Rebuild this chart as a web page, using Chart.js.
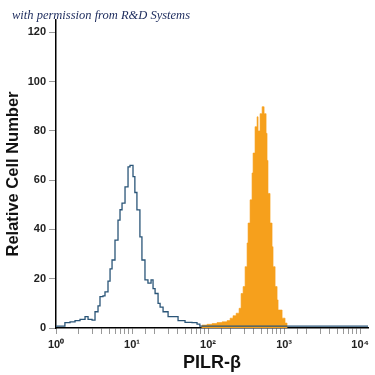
<!DOCTYPE html>
<html>
<head>
<meta charset="utf-8">
<script src="https://cdn.jsdelivr.net/npm/chart.js@4"></script>
<style>
  body { margin: 0; background: #fff; }
  #wrap { width: 375px; height: 375px; }
</style>
</head>
<body>
<div id="wrap"><canvas id="histChart"></canvas></div>
<script>
// isotype control histogram (open blue outline)
const isotypeX = [1, 1.31, 1.53, 1.78, 2.07, 2.41, 2.64, 2.98, 3.26, 3.57, 3.79, 4.15, 4.41, 4.83, 5.14, 5.46, 5.97, 6.54, 6.95, 7.39, 8.09, 8.86, 9.41, 10, 10.3, 10.9, 11.6, 12.7, 13.5, 14.8, 16.2, 17.8, 18.9, 20.1, 22, 23.4, 25.6, 29.8, 34.6, 40.3, 49.8, 61.5, 71.6, 78, 12700];
const isotypeCounts = [0.8, 2.2, 2.5, 3, 3.5, 4.6, 3.5, 3.2, 6.6, 9, 12.7, 13, 14.7, 19, 24, 27.6, 35.7, 43.8, 48, 50.7, 57.3, 65.4, 66, 66, 61.4, 55, 47.9, 37, 27.6, 19.5, 18.2, 19.5, 16, 14, 10, 8.5, 6.6, 4.6, 4.6, 3, 2.3, 2.2, 1.6, 0.8, 0.8];

// PILR-beta stained histogram (filled orange)
const pilrX = [80, 83.4, 97, 113, 131, 153, 178, 195, 213, 234, 256, 272, 289, 307, 326, 336, 357, 379, 391, 415, 441, 455, 483, 514, 546, 580, 597, 615, 654, 695, 716, 762, 809, 834, 942, 1030, 1096];
const pilrCounts = [0, 1.2, 1.5, 1.8, 2.2, 2.5, 3, 4, 5, 6, 8, 14, 16.8, 24.9, 34.5, 42.6, 52, 62.9, 71, 81.7, 85.7, 80, 87, 89.8, 87, 79, 68, 54.6, 42.6, 33, 24.9, 16.8, 11.4, 7.3, 4, 2, 0];

const yTicks = [0, 20, 40, 60, 80, 100, 120];
const xTickLabels = ["10\u2070", "10\u00B9", "10\u00B2", "10\u00B3", "10\u2074"];

const watermark = {
    id: "watermark",
    afterDraw(chart) {
        const ctx = chart.ctx;
        ctx.save();
        ctx.font = "italic 12.5px 'Liberation Serif'";
        ctx.fillStyle = "#1b2a5c";
        ctx.textBaseline = "middle";
        ctx.fillText("with permission from R&D Systems", 12, 16);
        ctx.restore();
    }
};

new Chart(document.getElementById("histChart"), {
    type: "line",
    data: {
        datasets: [{
            label: "Isotype",
            data: isotypeX.map((x, i) => ({x: x, y: isotypeCounts[i]})),
            borderColor: "#2a5578",
            borderWidth: 1.3,
            stepped: true,
            fill: false,
            pointRadius: 0
        }, {
            label: "PILR-β",
            data: pilrX.map((x, i) => ({x: x, y: pilrCounts[i]})),
            borderColor: "#f6a01c",
            backgroundColor: "#f6a01c",
            borderWidth: 0.6,
            stepped: true,
            fill: "origin",
            pointRadius: 0
        }]
    },
    options: {
        responsive: true,
        maintainAspectRatio: false,
        animation: false,
        layout: { padding: { top: 20, right: 7, left: 0, bottom: 0 } },
        plugins: {
            legend: { display: false },
            tooltip: { enabled: false }
        },
        scales: {
            x: {
                type: "logarithmic",
                min: 1,
                max: 12700,
                afterBuildTicks: axis => {
                    axis.ticks = axis.ticks.filter(t => t.value <= 10000);
                },
                afterFit: scale => { scale.height = 47; },
                border: { display: true, color: "#000", width: 1.5 },
                grid: { drawOnChartArea: false, drawTicks: true, tickLength: 6, color: "#999" },
                ticks: {
                    autoSkip: false,
                    maxRotation: 0,
                    padding: 4,
                    color: "#222",
                    font: { family: "'Liberation Sans'", size: 11, weight: "bold" },
                    callback: value => {
                        const lg = Math.log10(value);
                        const e = Math.round(lg);
                        return Math.abs(lg - e) < 1e-9 ? xTickLabels[e] : "";
                    }
                },
                title: {
                    display: true,
                    text: "PILR-β",
                    color: "#111",
                    padding: { top: 2, bottom: 1 },
                    font: { family: "'Liberation Sans'", size: 18, weight: "bold" }
                }
            },
            y: {
                min: 0,
                max: 125,
                afterBuildTicks: axis => {
                    axis.ticks = yTicks.map(v => ({value: v}));
                },
                afterFit: scale => { scale.width = 56; },
                border: { display: true, color: "#000", width: 1.5 },
                grid: { drawOnChartArea: false, drawTicks: true, tickLength: 7, color: "#999" },
                ticks: {
                    padding: 3,
                    color: "#222",
                    font: { family: "'Liberation Sans'", size: 11, weight: "bold" }
                },
                title: {
                    display: true,
                    text: "Relative Cell Number",
                    color: "#111",
                    padding: { top: 4, bottom: 4 },
                    font: { family: "'Liberation Sans'", size: 16.5, weight: "bold" }
                }
            }
        }
    },
    plugins: [watermark]
});
</script>
</body>
</html>
